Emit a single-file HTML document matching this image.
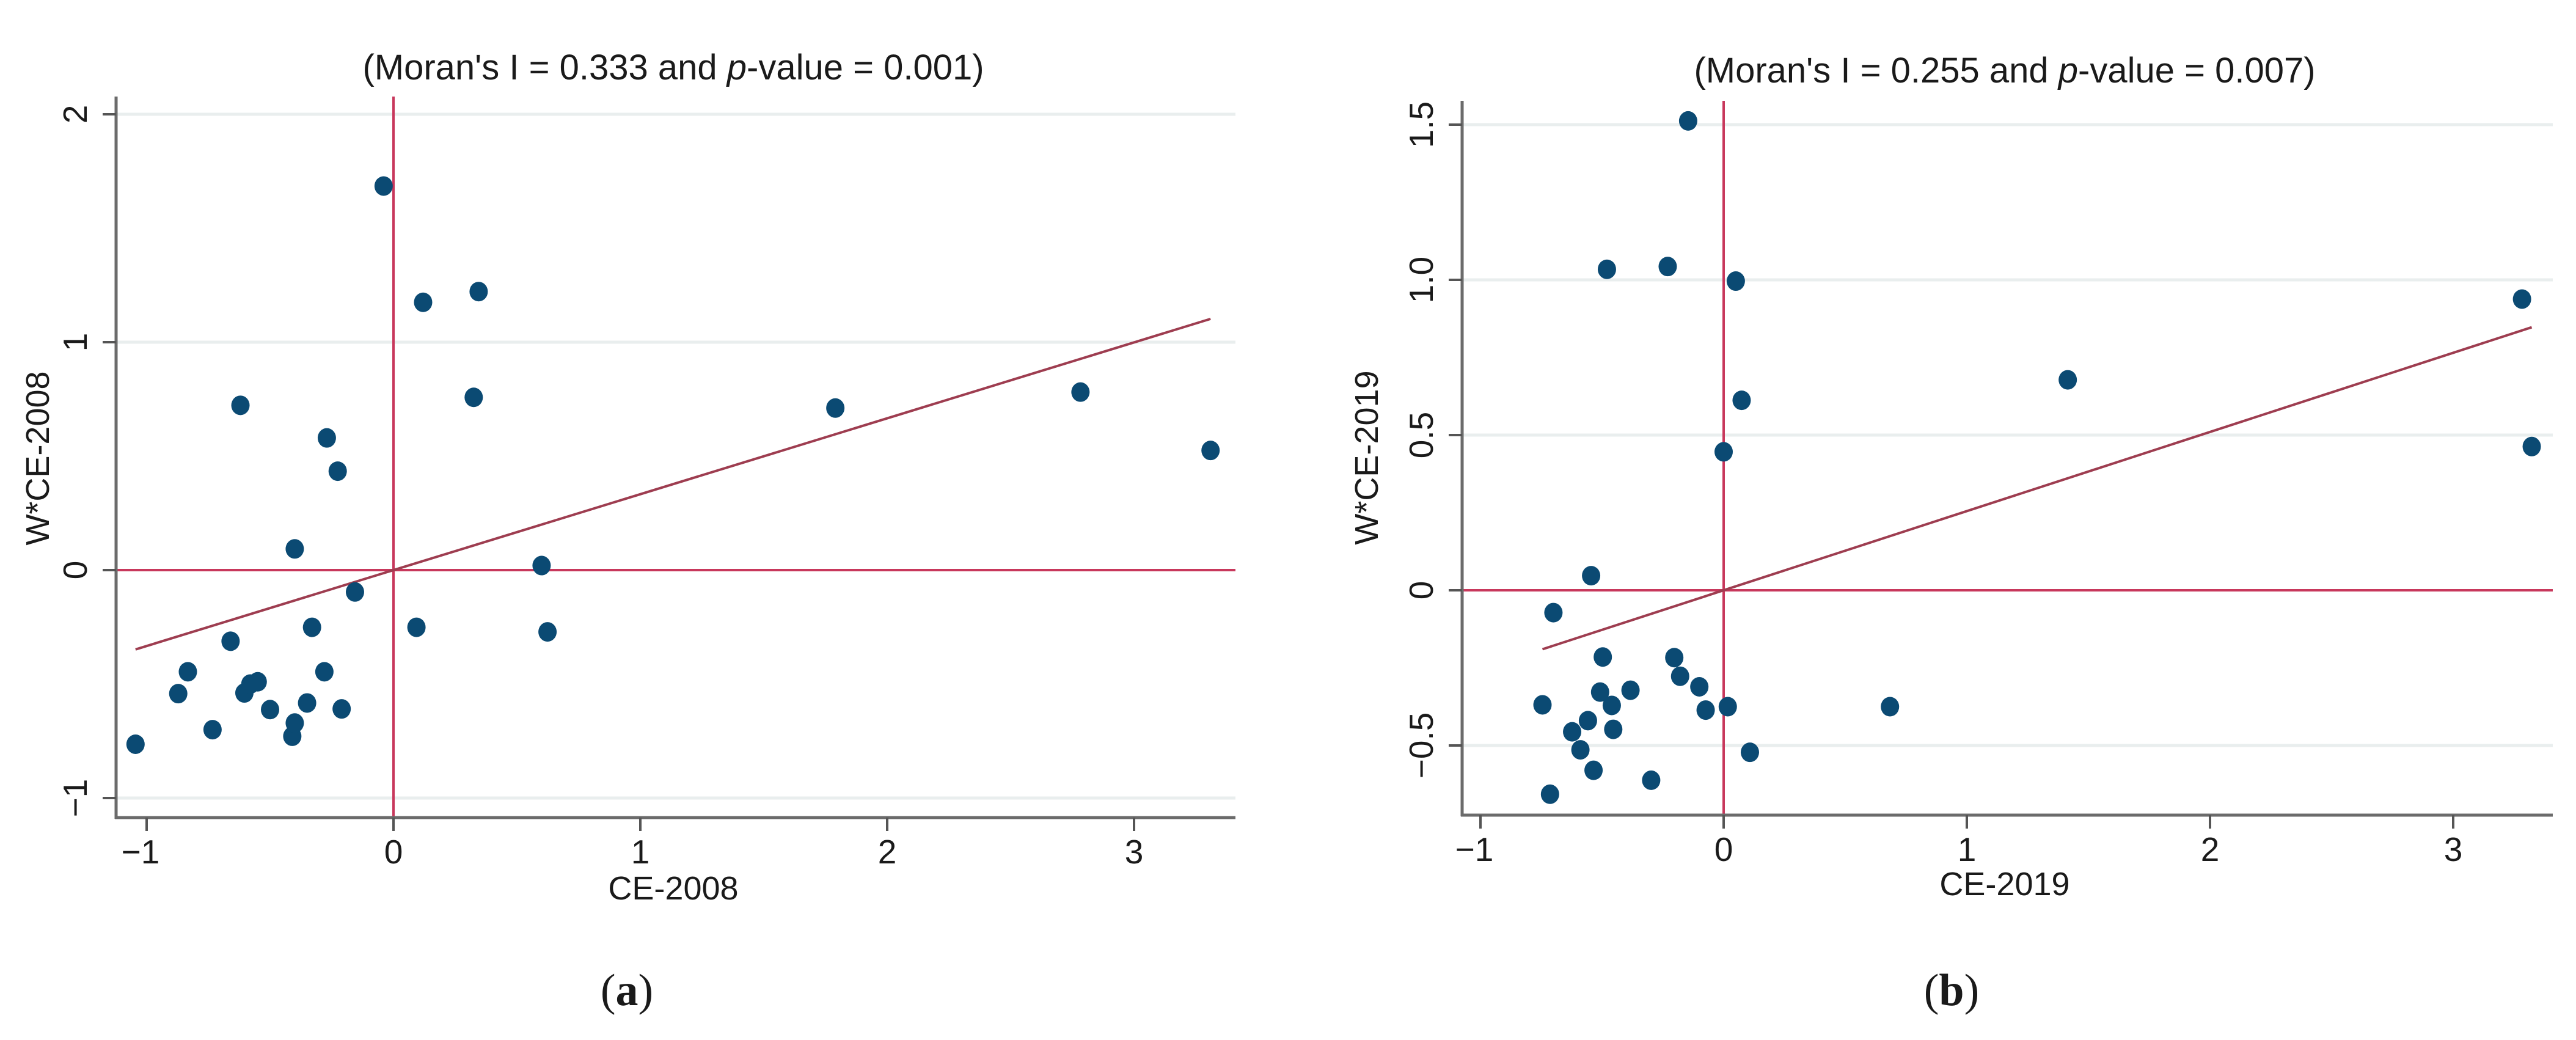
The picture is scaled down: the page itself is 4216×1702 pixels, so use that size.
<!DOCTYPE html>
<html><head><meta charset="utf-8">
<style>
html,body{margin:0;padding:0;background:#fff;}
svg{display:block;}
text{font-family:"Liberation Sans",sans-serif;fill:#1a1a1a;}
</style></head>
<body>
<svg id="fig" width="4216" height="1702" viewBox="0 0 4216 1702" xmlns="http://www.w3.org/2000/svg"></svg>
<script>
// Panel (a) data: CE-2008 vs W*CE-2008
const xA = [-1.045,-0.872,-0.833,-0.733,-0.66,-0.62,-0.604,-0.58,-0.55,-0.50,-0.41,-0.40,-0.40,-0.35,-0.33,-0.28,-0.27,-0.226,-0.21,-0.156,-0.04,0.093,0.12,0.325,0.345,0.60,0.624,1.79,2.783,3.31];
const yA = [-0.764,-0.542,-0.446,-0.70,-0.312,0.723,-0.539,-0.50,-0.49,-0.612,-0.729,-0.671,0.093,-0.583,-0.251,-0.446,0.58,0.434,-0.609,-0.096,1.685,-0.251,1.175,0.758,1.222,0.02,-0.271,0.711,0.781,0.525];
const slopeA = [0.333];
const xTicksA = [-1,0,1,2,3];
const yTicksA = [-1,0,1,2];
const yTickLabelsA = ["\u22121","0","1","2"];
// Panel (b) data: CE-2019 vs W*CE-2019
const xB = [-0.745,-0.714,-0.70,-0.623,-0.589,-0.558,-0.545,-0.535,-0.508,-0.497,-0.48,-0.46,-0.454,-0.383,-0.298,-0.23,-0.203,-0.179,-0.146,-0.10,-0.074,0.0,0.017,0.05,0.074,0.108,0.684,1.415,3.283,3.323];
const yB = [-0.369,-0.657,-0.072,-0.456,-0.514,-0.42,0.047,-0.58,-0.328,-0.215,1.034,-0.371,-0.448,-0.322,-0.612,1.043,-0.217,-0.277,1.512,-0.311,-0.386,0.446,-0.375,0.996,0.612,-0.522,-0.375,0.678,0.938,0.463];
const slopeB = [0.255];
const xTicksB = [-1,0,1,2,3];
const yTicksB = [-0.5,0,0.5,1.0,1.5];
const yTickLabelsB = ["\u22120.5","0","0.5","1.0","1.5"];

const NS = "http://www.w3.org/2000/svg";
const svg = document.getElementById('fig');
function mk(tag, attrs, parent){
  const e = document.createElementNS(NS, tag);
  for (const k in attrs) e.setAttribute(k, attrs[k]);
  (parent||svg).appendChild(e);
  return e;
}

function panel(cfg){
  const g = mk('g', {});
  
  
  const sx = v => cfg.x0 + cfg.ux * v;
  const sy = v => cfg.y0 - cfg.uy * v;
  const L = cfg.left, R = cfg.right, T = cfg.top, B = cfg.bottom;
  cfg.yTicks.forEach(v => {
    if (v === 0) return;
    const gl = mk('line', {x1:L, x2:R, y1:sy(v), y2:sy(v), stroke:'#e9eeee', 'stroke-width':5}, g);
    
    
  });
  const hz = mk('line', {x1:L, x2:R, y1:sy(0), y2:sy(0), stroke:'#c8385c', 'stroke-width':4}, g);
  
  
  const vz = mk('line', {x1:sx(0), x2:sx(0), y1:T, y2:B, stroke:'#c8385c', 'stroke-width':4}, g);
  
  
  let xmin = Math.min(...cfg.xs), xmax = Math.max(...cfg.xs);
  const fl = mk('line', {x1:sx(xmin), y1:sy(cfg.slope*xmin), x2:sx(xmax), y2:sy(cfg.slope*xmax), stroke:'#9e3d50', 'stroke-width':4}, g);
  
  
  cfg.xs.forEach((xv, i) => {
    const c = mk('ellipse', {cx:sx(xv), cy:sy(cfg.ys[i]), rx:15, ry:16, fill:'#0b4a73'}, g);
    
    
  });
  const ya = mk('line', {x1:L, x2:L, y1:T, y2:B+2, stroke:'#6b6b6b', 'stroke-width':5}, g);
  
  
  const xa = mk('line', {x1:L-2, x2:R, y1:B, y2:B, stroke:'#6b6b6b', 'stroke-width':5}, g);
  
  
  cfg.xTicks.forEach(v => {
    const t = mk('line', {x1:sx(v), x2:sx(v), y1:B, y2:B+22, stroke:'#555', 'stroke-width':4}, g);
    
    
    const lb = mk('text', {x:sx(v)-(v<0?10:0), y:B+75, 'font-size':55, 'text-anchor':'middle'}, g);
    lb.textContent = v < 0 ? '\u2212' + Math.abs(v) : String(v);
    
    
  });
  cfg.yTicks.forEach((v, i) => {
    const t = mk('line', {x1:L-22, x2:L, y1:sy(v), y2:sy(v), stroke:'#555', 'stroke-width':4}, g);
    
    
    const lx = L - 48, ly = sy(v);
    const lb = mk('text', {x:lx, y:ly, 'font-size':55, 'text-anchor':'middle', transform:`rotate(-90 ${lx} ${ly})`}, g);
    lb.textContent = cfg.yLabels[i];
    
    
  });
  const tt = mk('text', {x:cfg.titleX, y:cfg.titleY, 'font-size':58, 'text-anchor':'middle'}, g);
  tt.innerHTML = `(Moran's I = ${cfg.moran} and <tspan font-style="italic">p</tspan>-value = ${cfg.pval})`;
  
  
  const xt = mk('text', {x:cfg.titleX, y:cfg.xTitleY, 'font-size':54, 'text-anchor':'middle'}, g);
  xt.textContent = cfg.xTitle;
  
  
  const yx = cfg.yTitleX, yy = cfg.yTitleY;
  const yt = mk('text', {x:yx, y:yy, 'font-size':54, 'text-anchor':'middle', transform:`rotate(-90 ${yx} ${yy})`}, g);
  yt.textContent = cfg.yTitle;
  
  
  const pl = mk('text', {x:cfg.capX, y:1645, 'font-size':74, 'text-anchor':'middle', style:'font-family:"Liberation Serif",serif'}, g);
  pl.innerHTML = `(<tspan font-weight="bold">${cfg.cap}</tspan>)`;
  
  
}

panel({name:'panel-a', xs:xA, ys:yA, slope:slopeA[0], xTicks:xTicksA, yTicks:yTicksA, yLabels:yTickLabelsA,
  x0:644, ux:404, y0:933, uy:373, left:190, right:2022, top:158, bottom:1338,
  titleX:1102, titleY:130, xTitleY:1472, yTitleX:80, yTitleY:750, moran:'0.333', pval:'0.001',
  xTitle:'CE-2008', yTitle:'W*CE-2008', capX:1026, cap:'a'});
panel({name:'panel-b', xs:xB, ys:yB, slope:slopeB[0], xTicks:xTicksB, yTicks:yTicksB, yLabels:yTickLabelsB,
  x0:2821, ux:398, y0:966, uy:508, left:2393, right:4178, top:165, bottom:1334,
  titleX:3281, titleY:135, xTitleY:1465, yTitleX:2255, yTitleY:749, moran:'0.255', pval:'0.007',
  xTitle:'CE-2019', yTitle:'W*CE-2019', capX:3194, cap:'b'});
</script>
</body></html>
